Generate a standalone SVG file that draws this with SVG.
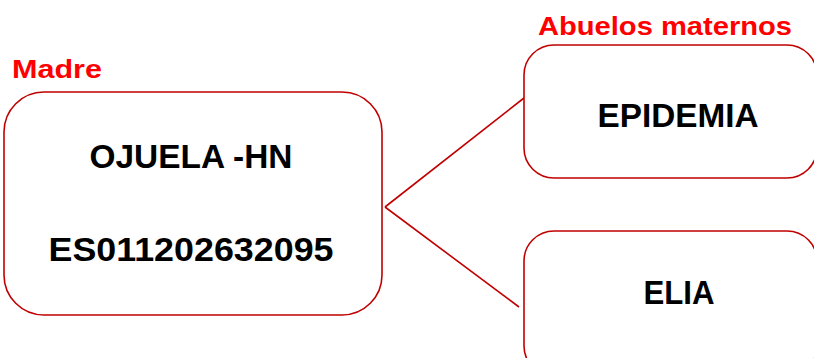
<svg xmlns="http://www.w3.org/2000/svg" width="814" height="358" viewBox="0 0 814 358">
<style>
.box{fill:#fff;stroke:#C00000;stroke-width:1.6}
.lbl{font-family:"Liberation Sans",Arial,sans-serif;font-weight:bold;fill:#FF0000;font-size:25px}
.t{font-family:"Liberation Sans",Arial,sans-serif;font-weight:bold;fill:#000;font-size:34px;text-anchor:middle}
.con{stroke:#C00000;stroke-width:1.6;fill:none}
</style>
<rect width="814" height="358" fill="#fff"/>
<g id="connectors">
<line class="con" x1="385" y1="207" x2="524" y2="98"/>
<line class="con" x1="385" y1="207" x2="519" y2="307"/>
</g>
<g id="madre">
<text class="lbl" x="12" y="78" textLength="90" lengthAdjust="spacingAndGlyphs">Madre</text>
<rect class="box" x="4" y="92" width="378" height="223" rx="40"/>
<text class="t" x="191" y="168" textLength="203" lengthAdjust="spacingAndGlyphs">OJUELA -HN</text>
<text class="t" x="191" y="261" textLength="285" lengthAdjust="spacingAndGlyphs">ES011202632095</text>
</g>
<g id="abuelo">
<text class="lbl" x="538" y="35" textLength="254" lengthAdjust="spacingAndGlyphs">Abuelos maternos</text>
<rect class="box" x="524" y="45" width="293" height="133" rx="30"/>
<text class="t" x="678" y="127" textLength="161" lengthAdjust="spacingAndGlyphs">EPIDEMIA</text>
</g>
<g id="abuela">
<rect class="box" x="524" y="231" width="293" height="145" rx="30"/>
<text class="t" x="679" y="304" textLength="71" lengthAdjust="spacingAndGlyphs">ELIA</text>
</g>
</svg>
